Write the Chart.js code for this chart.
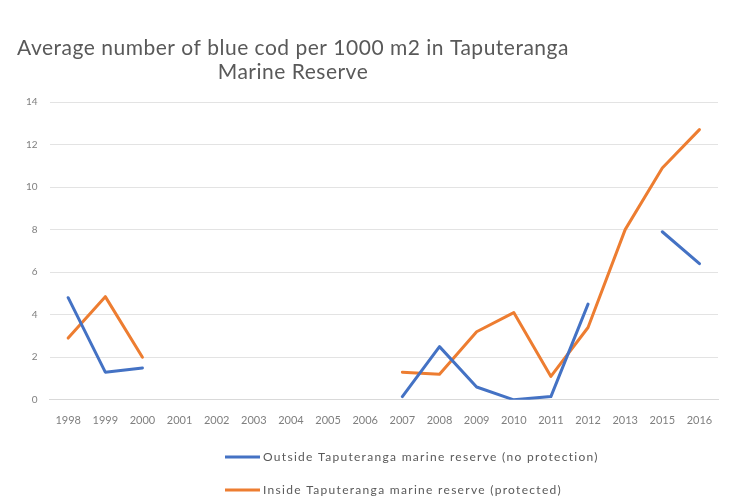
<!DOCTYPE html>
<html>
<head>
<meta charset="utf-8">
<script src="https://cdn.jsdelivr.net/npm/chart.js@4"></script>
<style>
  html, body { margin: 0; padding: 0; background: #fff; }
  #wrap { width: 736px; height: 496px; position: relative; }
</style>
</head>
<body>
<div id="wrap"><canvas id="canvas"></canvas></div>
<script>
var years = ["1998", "1999", "2000", "2001", "2002", "2003", "2004", "2005", "2006",
             "2007", "2008", "2009", "2010", "2011", "2012", "2013", "2015", "2016"];

// blue cod per 1000 m2, outside the reserve
var outside = [4.8, 1.3, 1.5, null, null, null, null, null, null,
               0.15, 2.5, 0.6, 0.0, 0.15, 4.5, null, 7.9, 6.4];

// blue cod per 1000 m2, inside the reserve
var inside = [2.9, 4.85, 2.0, null, null, null, null, null, null,
              1.3, 1.2, 3.2, 4.1, 1.1, 3.4, 8.0, 10.9, 12.7];

var titleLines = ["Average number of blue cod per 1000 m2 in Taputeranga", "Marine Reserve"];
var legendNames = ["Outside Taputeranga marine reserve (no protection)",
                   "Inside Taputeranga marine reserve (protected)"];

var blue = '#4472c4';
var orange = '#ed7d31';
var grey = '#595959';
var fontName = 'Lato, "Open Sans", sans-serif';

// title and legend are drawn by hand so they sit where the old excel chart had them
var extras = {
    id: 'extras',
    afterDraw: function (chart) {
        var ctx = chart.ctx;
        ctx.save();
        ctx.fillStyle = grey;
        ctx.textAlign = 'center';
        ctx.textBaseline = 'middle';
        ctx.font = '21px ' + fontName;
        ctx.letterSpacing = '0.5px';
        ctx.fillText(titleLines[0], 293, 48);
        ctx.fillText(titleLines[1], 293, 72);

        var colors = [blue, orange];
        var rows = [457, 490];
        ctx.textAlign = 'left';
        ctx.font = '12px ' + fontName;
        ctx.letterSpacing = '1.3px';
        for (var i = 0; i < 2; i++) {
            ctx.strokeStyle = colors[i];
            ctx.lineWidth = 3;
            ctx.beginPath();
            ctx.moveTo(225, rows[i]);
            ctx.lineTo(260, rows[i]);
            ctx.stroke();
            ctx.fillStyle = grey;
            ctx.fillText(legendNames[i], 263, rows[i]);
        }
        ctx.restore();
    }
};

var config = {
    type: 'line',
    data: {
        labels: years,
        datasets: [
            { label: legendNames[0], data: outside, borderColor: blue, backgroundColor: blue },
            { label: legendNames[1], data: inside, borderColor: orange, backgroundColor: orange }
        ]
    },
    options: {
        responsive: true,
        maintainAspectRatio: false,
        animation: false,
        layout: { padding: { top: 102, left: 14, right: 18, bottom: 55 } },
        elements: {
            point: { radius: 0, hoverRadius: 0 },
            line: { borderWidth: 3, tension: 0, borderCapStyle: 'round', borderJoinStyle: 'round' }
        },
        plugins: {
            legend: { display: false },
            title: { display: false },
            tooltip: { enabled: false }
        },
        scales: {
            x: {
                offset: true,
                grid: { display: false, drawTicks: false },
                border: { color: '#d9d9d9', width: 1 },
                ticks: { color: '#7f7f7f', font: { family: fontName, size: 11 }, padding: 14, maxRotation: 0, autoSkip: false }
            },
            y: {
                min: 0,
                max: 14,
                ticks: { stepSize: 2, color: '#7f7f7f', font: { family: fontName, size: 10 }, padding: 12 },
                grid: { color: '#e3e3e3', drawTicks: false },
                border: { display: false }
            }
        }
    },
    plugins: [extras]
};

window.onload = function () {
    var ctx = document.getElementById('canvas').getContext('2d');
    window.myLine = new Chart(ctx, config);
};
</script>
</body>
</html>
